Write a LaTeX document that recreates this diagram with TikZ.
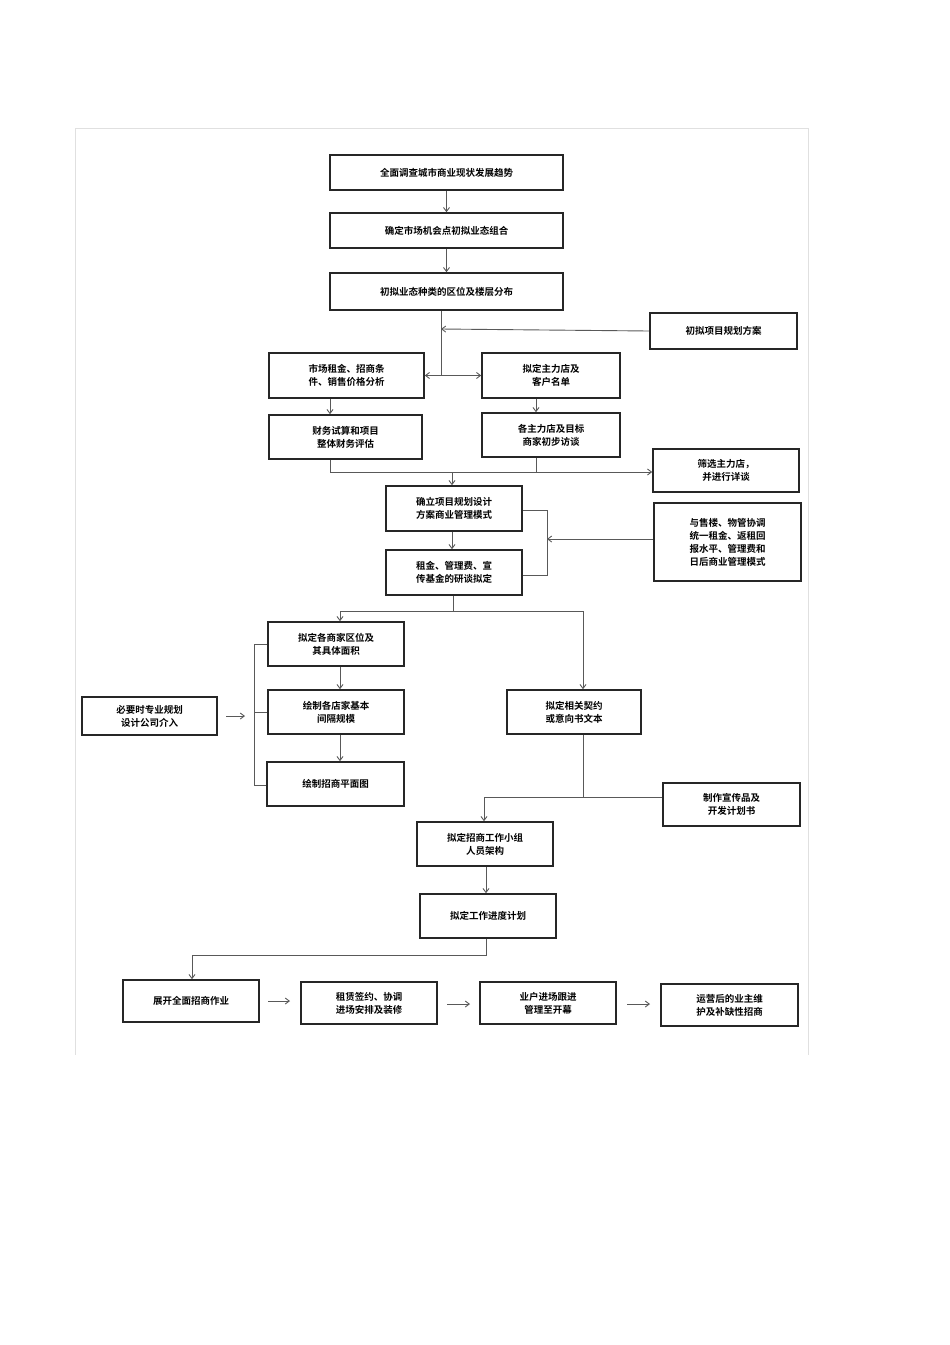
\documentclass[tikz,border=0pt]{standalone}
\usepackage{fontspec}
\setmainfont{Noto Sans CJK SC}[BoldFont={Noto Sans CJK SC Bold}]
\usetikzlibrary{arrows.meta}
\begin{document}
\begin{tikzpicture}[x=1pt,y=-1pt,
 box/.style={draw=black!85,line width=1.6pt,inner sep=0pt,align=center,font=\bfseries\fontsize{9.5}{13}\selectfont},
 ln/.style={draw=black!65,line width=0.9pt},
 ar/.style={ln,-{Straight Barb[length=4pt,width=6pt]}}]
\useasboundingbox (0,0) rectangle (950,1345);
\draw[black!12,line width=0.6pt] (75,1055) -- (75,128) -- (808,128) -- (808,1055);
\newcommand{\bx}[6]{\node[box,minimum width=#4-#2,minimum height=#5-#3] (#1) at ({(#2+#4)/2},{(#3+#5)/2}) {#6};}
\bx{b1}{330}{155}{563}{190}{全面调查城市商业现状发展趋势}
\bx{b2}{330}{213}{563}{248}{确定市场机会点初拟业态组合}
\bx{b3}{330}{273}{563}{310}{初拟业态种类的区位及楼层分布}
\bx{p1}{650}{313}{797}{349}{初拟项目规划方案}
\bx{b4}{269}{353}{424}{398}{市场租金、招商条\\件、销售价格分析}
\bx{b5}{482}{353}{620}{398}{拟定主力店及\\客户名单}
\bx{b6}{269}{415}{422}{459}{财务试算和项目\\整体财务评估}
\bx{b7}{482}{413}{620}{457}{各主力店及目标\\商家初步访谈}
\bx{p2}{653}{449}{799}{492}{筛选主力店，\\并进行详谈}
\bx{b8}{386}{486}{522}{531}{确立项目规划设计\\方案商业管理模式}
\bx{b9}{386}{550}{522}{595}{租金、管理费、宣\\传基金的研谈拟定}
\bx{p3}{654}{503}{801}{581}{与售楼、物管协调\\统一租金、返租回\\报水平、管理费和\\日后商业管理模式}
\bx{b10}{268}{622}{404}{666}{拟定各商家区位及\\其具体面积}
\bx{b11}{268}{690}{404}{734}{绘制各店家基本\\间隔规模}
\bx{b12}{267}{762}{404}{806}{绘制招商平面图}
\bx{l1}{82}{697}{217}{735}{必要时专业规划\\设计公司介入}
\bx{b13}{507}{690}{641}{734}{拟定相关契约\\或意向书文本}
\bx{p4}{663}{783}{800}{826}{制作宣传品及\\开发计划书}
\bx{b14}{417}{822}{553}{866}{拟定招商工作小组\\人员架构}
\bx{b15}{420}{894}{556}{938}{拟定工作进度计划}
\bx{b16}{123}{980}{259}{1022}{展开全面招商作业}
\bx{b17}{301}{982}{437}{1024}{租赁签约、协调\\进场安排及装修}
\bx{b18}{480}{982}{616}{1024}{业户进场跟进\\管理至开幕}
\bx{b19}{661}{984}{798}{1026}{运营后的业主维\\护及补缺性招商}
\coordinate (j1) at (441,375);
\coordinate (j2) at (441,329);
\coordinate (j3) at (452,472);
\coordinate (j4) at (453,611);
\coordinate (j5) at (254,716);
\coordinate (j6) at (583,797);
\coordinate (j7) at (486,955);
\coordinate (k1) at (547,539);
\draw[ar] (b1) -- (b2);
\draw[ar] (b2) -- (b3);
\draw[ln] (b3.south -| j1) -- (j1);
\draw[ar] (p1.west) -- (j2);
\draw[ar] (j1 |- b4.east) -- (b4.east);
\draw[ar] (j1 |- b5.west) -- (b5.west);
\draw[ar] (b4.south -| 330,0) -- (b6.north -| 330,0);
\draw[ar] (b5.south -| 536,0) -- (b7.north -| 536,0);
\draw[ln] (b6.south -| 330,0) |- (536,472) -- (b7.south -| 536,0);
\draw[ar] (536,472) -- (p2.west |- 0,472);
\draw[ar] (j3) -- (b8.north -| j3);
\draw[ar] (b8.south -| j3) -- (b9.north -| j3);
\draw[ln] (b8.east |- 0,510) -- (547,510) -- (547,575) -- (b9.east |- 0,575);
\draw[ar] (p3.west |- k1) -- (k1);
\draw[ln] (b9.south -| j4) -- (j4);
\draw[ar] (j4) -| (b10.north -| 340,0);
\draw[ar] (j4) -| (b13.north -| 583,0);
\draw[ar] (b10.south -| 340,0) -- (b11.north -| 340,0);
\draw[ar] (b11.south -| 340,0) -- (b12.north -| 340,0);
\draw[ln] (b10.west) -| (254,785) -- (b12.west |- 0,785);
\draw[ln] (254,712) -- (b11.west |- 0,712);
\draw[ar] (226,716) -- (245,716);
\draw[ln] (b13.south -| j6) -- (j6);
\draw[ar] (p4.west |- j6) -| (b14.north -| 484,0);
\draw[ar] (b14.south -| 486,0) -- (b15.north -| 486,0);
\draw[ar] (b15.south -| j7) |- (192,955) -- (b16.north -| 192,0);
\draw[ar] (268,1001) -- (290,1001);
\draw[ar] (447,1004) -- (470,1004);
\draw[ar] (627,1004) -- (650,1004);
\end{tikzpicture}
\end{document}
